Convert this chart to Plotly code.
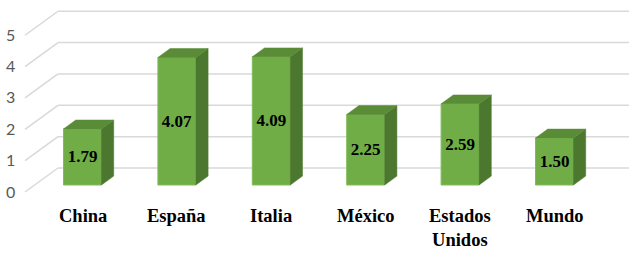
import plotly.graph_objects as go

# ---- data ----
categories = ["China", "España", "Italia", "México", "Estados<br>Unidos", "Mundo"]
values = [1.79, 4.07, 4.09, 2.25, 2.59, 1.50]
tick_values = [0, 1, 2, 3, 4, 5]

# ---- geometry (pixel scale of the axes) ----
W, H = 629, 253
KX = 94.4            # px per category step
KY = 31.35           # px per value unit
X0PX = 82.5          # pixel of first category centre
Y0PX = 185           # pixel of value 0 at bar front plane
DEPTH_DX, DEPTH_DY = 33.0, 24.0   # full floor depth in px
F0 = 7.0 / 24.0      # bar front plane depth fraction
BAR_T = 0.37         # bar depth fraction
BAR_W = 38.0 / KX
LEFT_PX = 25.0

def proj(x, v, t):
    """x in category units, v in value units, t depth fraction (0 front, 1 back)."""
    return (x + t * DEPTH_DX / KX, v + (t - F0) * DEPTH_DY / KY)

xr = [-X0PX / KX, (W - X0PX) / KX]
yr = [-(H - Y0PX) / KY, Y0PX / KY]
x_left = (LEFT_PX - X0PX) / KX

fig = go.Figure()

GRID = "#D9D9D9"
for v in tick_values:
    a = proj(x_left, v, 0)
    b = proj(x_left, v, 1)
    c = proj(xr[1] + 1, v, 1)
    fig.add_shape(type="line", xref="x", yref="y", x0=a[0], y0=a[1], x1=b[0], y1=b[1],
                  line=dict(color=GRID, width=1.5), layer="below")
    fig.add_shape(type="line", xref="x", yref="y", x0=b[0], y0=b[1], x1=c[0], y1=c[1],
                  line=dict(color=GRID, width=1.5), layer="below")

ddx = BAR_T * DEPTH_DX / KX
ddy = BAR_T * DEPTH_DY / KY

sx, sy, tx, ty = [], [], [], []
for i, v in enumerate(values):
    l, r = i - BAR_W / 2, i + BAR_W / 2
    sx += [r, r, r + ddx, r + ddx, r, None]
    sy += [0, v, v + ddy, ddy, 0, None]
    tx += [l, r, r + ddx, l + ddx, l, None]
    ty += [v, v, v + ddy, v + ddy, v, None]

fig.add_trace(go.Scatter(x=sx, y=sy, mode="lines", fill="toself",
                         fillcolor="#4B772E", line=dict(color="#4B772E", width=0.5),
                         hoverinfo="skip"))
fig.add_trace(go.Scatter(x=tx, y=ty, mode="lines", fill="toself",
                         fillcolor="#5A8C37", line=dict(color="#5A8C37", width=0.5),
                         hoverinfo="skip"))

fig.add_trace(go.Bar(x=list(range(len(values))), y=values, width=BAR_W,
                     marker=dict(color="#70AD47", line=dict(color="#80BC58", width=1)),
                     text=[f"{v:.2f}" for v in values], textposition="inside",
                     insidetextanchor="middle", constraintext="none",
                     textangle=0,
                     insidetextfont=dict(family="Liberation Serif", size=17,
                                         color="black", weight="bold"),
                     hoverinfo="skip"))

for v in tick_values:
    px_, py_ = proj(x_left, v, 0)
    fig.add_annotation(x=px_, y=py_, text=str(v), showarrow=False,
                       xanchor="center", yanchor="middle", xshift=-15, yshift=1,
                       font=dict(family="Lato", size=16, color="#595959"))

for i, c in enumerate(categories):
    px_, py_ = proj(i, 0, 0)
    fig.add_annotation(x=px_, y=py_, text=c, showarrow=False,
                       xanchor="center", yanchor="top", yshift=-12,
                       font=dict(family="Liberation Serif", size=18.5, color="black",
                                 weight="bold"))

fig.update_layout(
    width=W, height=H, autosize=False,
    margin=dict(l=0, r=0, t=0, b=0),
    paper_bgcolor="white", plot_bgcolor="white",
    showlegend=False, barmode="overlay",
    xaxis=dict(range=xr, visible=False, fixedrange=True),
    yaxis=dict(range=yr, visible=False, fixedrange=True),
)

fig.write_html("out.html", config={"displayModeBar": False},
               post_script="document.body.style.margin='0px';document.body.style.overflow='hidden';")
